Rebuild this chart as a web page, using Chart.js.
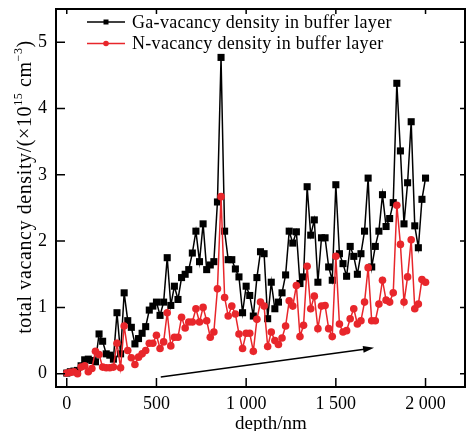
<!DOCTYPE html>
<html lang="en">
<head>
  <meta charset="UTF-8">
  <title>Vacancy density vs depth</title>
  <style>
    html, body { margin: 0; padding: 0; background: #fff; }
    #wrap { width: 470px; height: 431px; }
  </style>
  <script src="https://cdn.jsdelivr.net/npm/chart.js"></script>
</head>
<body>
  <div id="wrap"><canvas id="chart" width="470" height="431"></canvas></div>

  <script>
    const depth = [0, 20, 40, 60, 80, 100, 120, 140, 160, 180, 200, 220, 240, 260, 280, 300, 320, 340, 360, 380,
      400, 420, 440, 460, 480, 500, 520, 540, 560, 580, 600, 620, 640, 660, 680, 700, 720, 740, 760, 780,
      800, 820, 840, 860, 880, 900, 920, 940, 960, 980, 1000, 1020, 1040, 1060, 1080, 1100, 1120, 1140, 1160, 1180,
      1200, 1220, 1240, 1260, 1280, 1300, 1320, 1340, 1360, 1380, 1400, 1420, 1440, 1460, 1480, 1500, 1520, 1540, 1560, 1580,
      1600, 1620, 1640, 1660, 1680, 1700, 1720, 1740, 1760, 1780, 1800, 1820, 1840, 1860, 1880, 1900, 1920, 1940, 1960, 1980, 2000];

    const gaVacancy = [0.01, 0.03, 0.04, 0.05, 0.12, 0.21, 0.22, 0.2, 0.18, 0.6, 0.49, 0.3, 0.28, 0.22, 0.92, 0.3, 1.22, 0.8, 0.7, 0.45,
      0.53, 0.61, 0.71, 0.96, 1.02, 1.08, 0.88, 1.08, 1.75, 1.03, 1.32, 1.12, 1.45, 1.5, 1.57, 1.82, 2.15, 1.69, 2.26, 1.57,
      1.64, 1.69, 2.59, 4.77, 2.15, 1.72, 1.72, 1.58, 1.46, 0.92, 1.32, 1.18, 0.87, 1.45, 1.84, 1.81, 0.83, 1.38, 0.98, 1.08,
      1.22, 1.49, 2.15, 1.97, 2.14, 1.36, 1.46, 2.82, 2.09, 2.32, 1.38, 2.05, 2.05, 1.61, 1.41, 2.85, 1.81, 1.66, 1.47, 1.92,
      1.77, 1.5, 1.81, 2.15, 2.95, 1.61, 1.92, 2.15, 2.7, 2.22, 2.34, 2.58, 4.38, 3.36, 2.26, 2.88, 3.8, 2.23, 1.9, 2.63, 2.95];

    const nVacancy = [0.01, 0.02, 0.03, 0.0, 0.1, 0.12, 0.03, 0.08, 0.34, 0.29, 0.1, 0.09, 0.09, 0.1, 0.46, 0.09, 0.72, 0.35, 0.24, 0.14,
      0.25, 0.3, 0.35, 0.46, 0.46, 0.58, 0.38, 0.48, 0.92, 0.42, 0.55, 0.55, 0.85, 0.69, 0.78, 0.78, 0.98, 0.78, 1.0, 0.8,
      0.55, 0.63, 1.28, 2.67, 1.15, 0.87, 1.02, 0.9, 0.6, 0.38, 0.61, 0.61, 0.34, 0.82, 1.08, 1.02, 0.41, 0.63, 0.5, 0.44,
      0.54, 0.72, 1.1, 1.02, 1.33, 0.56, 0.73, 1.62, 0.98, 1.17, 0.68, 1.02, 1.03, 0.68, 0.56, 1.77, 0.75, 0.63, 0.65, 0.83,
      0.98, 0.75, 0.8, 1.08, 1.6, 0.8, 0.8, 1.05, 1.41, 1.11, 1.08, 1.22, 2.54, 1.95, 1.08, 1.46, 2.02, 0.98, 1.05, 1.42, 1.38];

    const xTicks = [0, 500, 1000, 1500, 2000];
    const xTickLabels = ['0', '500', '1 000', '1 500', '2 000'];
    const yTicks = [0, 1, 2, 3, 4, 5];

    const legendNames = ['Ga-vacancy density in buffer layer', 'N-vacancy density in buffer layer'];
    // arrow annotation, in data units: [depth, density]
    const arrowFrom = [524, -0.05];
    const arrowTo = [1713, 0.39];

    const RED = '#e8262b';
    const FONT = '"Liberation Serif", "Times New Roman", serif';

    const extras = {
      id: 'extras',
      afterDraw(chart) {
        const ctx = chart.ctx;
        const a = chart.chartArea;
        const xs = chart.scales.x, ys = chart.scales.y;
        ctx.save();

        // frame + inward ticks
        ctx.strokeStyle = '#000';
        ctx.lineWidth = 2;
        ctx.strokeRect(a.left, a.top, a.right - a.left, a.bottom - a.top);
        ctx.lineWidth = 1.5;
        ctx.beginPath();
        xTicks.forEach(v => {
          const px = xs.getPixelForValue(v);
          ctx.moveTo(px, a.bottom); ctx.lineTo(px, a.bottom - 9);
          ctx.moveTo(px, a.top); ctx.lineTo(px, a.top + 5);
        });
        yTicks.forEach(v => {
          const py = ys.getPixelForValue(v);
          ctx.moveTo(a.left, py); ctx.lineTo(a.left + 9, py);
          ctx.moveTo(a.right, py); ctx.lineTo(a.right - 5, py);
        });
        ctx.stroke();

        // arrow
        const x1 = xs.getPixelForValue(arrowFrom[0]), y1 = ys.getPixelForValue(arrowFrom[1]);
        const x2 = xs.getPixelForValue(arrowTo[0]), y2 = ys.getPixelForValue(arrowTo[1]);
        const ang = Math.atan2(y2 - y1, x2 - x1);
        ctx.lineWidth = 1.5;
        ctx.beginPath();
        ctx.moveTo(x1, y1);
        ctx.lineTo(x2 - 8 * Math.cos(ang), y2 - 8 * Math.sin(ang));
        ctx.stroke();
        ctx.fillStyle = '#000';
        ctx.beginPath();
        ctx.moveTo(x2, y2);
        ctx.lineTo(x2 - 11 * Math.cos(ang) + 3.5 * Math.sin(ang), y2 - 11 * Math.sin(ang) - 3.5 * Math.cos(ang));
        ctx.lineTo(x2 - 11 * Math.cos(ang) - 3.5 * Math.sin(ang), y2 - 11 * Math.sin(ang) + 3.5 * Math.cos(ang));
        ctx.closePath();
        ctx.fill();

        // legend
        ctx.font = '18px ' + FONT;
        ctx.letterSpacing = '0.3px';
        ctx.textBaseline = 'middle';
        ctx.textAlign = 'left';
        const rows = [
          { y: 22, color: '#000', style: 'rect' },
          { y: 43.5, color: RED, style: 'circle' }
        ];
        rows.forEach((r, i) => {
          ctx.strokeStyle = r.color;
          ctx.fillStyle = r.color;
          ctx.lineWidth = 1.5;
          ctx.beginPath();
          ctx.moveTo(87, r.y); ctx.lineTo(125, r.y);
          ctx.stroke();
          if (r.style === 'rect') {
            ctx.fillRect(103.5, r.y - 2.5, 5, 5);
          } else {
            ctx.beginPath(); ctx.arc(106, r.y, 2.8, 0, Math.PI * 2); ctx.fill();
          }
          ctx.fillStyle = '#000';
          ctx.fillText(legendNames[i], 132, r.y + 1);
        });

        // x title
        ctx.font = '19px ' + FONT;
        ctx.letterSpacing = '0px';
        ctx.textAlign = 'center';
        ctx.fillText('depth/nm', 271, 424);

        // y title with superscripts
        ctx.translate(26, 187);
        ctx.rotate(-Math.PI / 2);
        ctx.letterSpacing = '0.6px';
        const parts = [
          ['total vacancy density/(×10', 20, 0],
          ['15', 12, -7],
          [' cm', 20, 0],
          ['−3', 12, -7],
          [')', 20, 0]
        ];
        let total = 0;
        parts.forEach(p => { ctx.font = p[1] + 'px ' + FONT; total += ctx.measureText(p[0]).width; });
        let cx = -total / 2;
        ctx.textAlign = 'left';
        parts.forEach(p => {
          ctx.font = p[1] + 'px ' + FONT;
          ctx.fillText(p[0], cx, p[2]);
          cx += ctx.measureText(p[0]).width;
        });
        ctx.restore();
      }
    };

    new Chart(document.getElementById('chart'), {
      type: 'line',
      data: {
        datasets: [
          {
            label: legendNames[1],
            data: depth.map((d, i) => ({ x: d, y: nVacancy[i] })),
            borderColor: RED,
            backgroundColor: RED,
            borderWidth: 1.5,
            pointStyle: 'circle',
            pointRadius: 3.8,
            pointBorderWidth: 0,
            order: 0
          },
          {
            label: legendNames[0],
            data: depth.map((d, i) => ({ x: d, y: gaVacancy[i] })),
            borderColor: '#000',
            backgroundColor: '#000',
            borderWidth: 1.5,
            pointStyle: 'rect',
            pointRadius: 5,
            pointBorderWidth: 0,
            order: 1
          }
        ]
      },
      options: {
        responsive: false,
        animation: false,
        devicePixelRatio: 1,
        layout: { padding: { top: 9, right: 2, left: 0, bottom: 0 } },
        plugins: { legend: { display: false }, tooltip: { enabled: false } },
        scales: {
          x: {
            type: 'linear',
            min: -60,
            max: 2220,
            afterBuildTicks: s => { s.ticks = xTicks.map(v => ({ value: v })); },
            afterFit: s => { s.height = 44; s.paddingLeft = 0; s.paddingRight = 0; },
            grid: { display: false, drawTicks: false },
            border: { display: false },
            ticks: {
              padding: 6,
              maxRotation: 0,
              color: '#000',
              font: { family: FONT, size: 18 },
              callback: v => xTickLabels[xTicks.indexOf(v)]
            }
          },
          y: {
            type: 'linear',
            min: -0.2,
            max: 5.5,
            afterBuildTicks: s => { s.ticks = yTicks.map(v => ({ value: v })); },
            afterFit: s => { s.width = 56; s.paddingTop = 0; s.paddingBottom = 0; },
            grid: { display: false, drawTicks: false },
            border: { display: false },
            ticks: {
              padding: 9,
              color: '#000',
              font: { family: FONT, size: 18 }
            }
          }
        }
      },
      plugins: [extras]
    });
  </script>
</body>
</html>
